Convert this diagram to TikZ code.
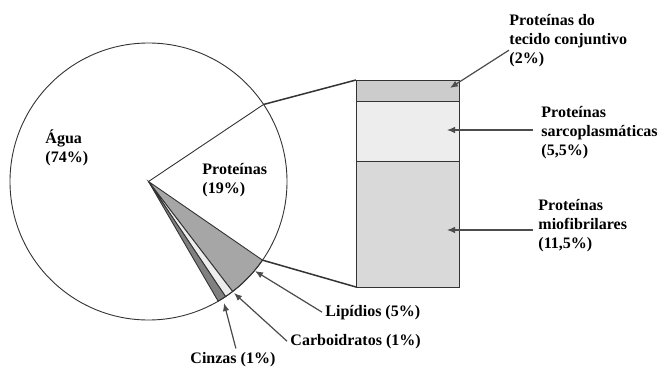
\documentclass[tikz,border=0pt]{standalone}
\usepackage{fontspec}
\setmainfont{Liberation Serif}
\usepackage[dvipsnames]{xcolor}
\usetikzlibrary{arrows.meta,calc}

\begin{document}
\begin{tikzpicture}[x=1pt,y=1pt,line width=0.9pt,draw=black!80,
		rotulo/.style={anchor=base west,align=left,inner sep=0pt,font=\fontsize{16pt}{19pt}\selectfont\bfseries},
		seta/.style={-{Latex[length=8pt,width=6.5pt]},line width=1.2pt,draw=black!70,fill=black!70},
		ligacao/.style={line width=1.5pt,draw=black!80}]
			\useasboundingbox (0,0) rectangle (665,368);
			\coordinate (c) at (148.5,186.5);
			% fatias pequenas
			\draw[fill=black!35] (c) -- ++(-34.6:138.5) arc (-34.6:-52.6:138.5) -- cycle;
			\draw[fill=black!7] (c) -- ++(-52.6:138.5) arc (-52.6:-56.2:138.5) -- cycle;
			\draw[fill=black!50] (c) -- ++(-56.2:138.5) arc (-56.2:-59.8:138.5) -- cycle;
			\draw (c) circle (138.5);
			\draw (c) -- ++(33.8:138.5) coordinate (p1);
			\path (c) ++(-34.6:138.5) coordinate (p2);
			% barra
			\draw[fill=black!20] (356,266.2) rectangle (459,288);
			\draw[fill=black!7] (356,206.3) rectangle (459,266.2);
			\draw[fill=black!15] (356,81) rectangle (459,206.3);
			\coordinate (b1) at (356,288);
			\coordinate (b2) at (356,81);
			\draw[ligacao] (p1) -- (b1);
			\draw[ligacao] (p2) -- (b2);
			% rotulos (base = ultima linha)
			\node[rotulo] (agua) at (45,206) {Água\\(74\%)};
			\node[rotulo] (prot) at (202,175) {Proteínas\\(19\%)};
			\node[rotulo] (tecido) at (509,305) {Proteínas do\\tecido conjuntivo\\(2\%)};
			\node[rotulo] (sarco) at (541,213) {Proteínas\\sarcoplasmáticas\\(5,5\%)};
			\node[rotulo] (mio) at (538,120) {Proteínas\\miofibrilares\\(11,5\%)};
			\node[rotulo] (lip) at (325,52) {Lipídios (5\%)};
			\node[rotulo] (carb) at (290,23) {Carboidratos (1\%)};
			\node[rotulo] (cinzas) at (190,5) {Cinzas (1\%)};
			% setas
			\coordinate (tTecido) at (450,280);
			\coordinate (tSarco) at (447,238);
			\coordinate (tMio) at (447,138);
			\coordinate (tLip) at (255,97);
			\coordinate (tCarb) at (234,75);
			\coordinate (tCinzas) at (224,65);
			\draw[seta] ([yshift=-10pt]tecido.west) -- (tTecido);
			\draw[seta] (sarco.west |- tSarco) ++(-8,0) -- (tSarco);
			\draw[seta] (mio.west |- tMio) ++(-5,0) -- (tMio);
			\draw[seta] ([xshift=-3pt]lip.west) -- (tLip);
			\draw[seta] ([xshift=-3pt]carb.west) -- (tCarb);
			\draw[seta] ([xshift=3pt,yshift=3pt]cinzas.north) -- (tCinzas);
		\end{tikzpicture}
\end{document}
